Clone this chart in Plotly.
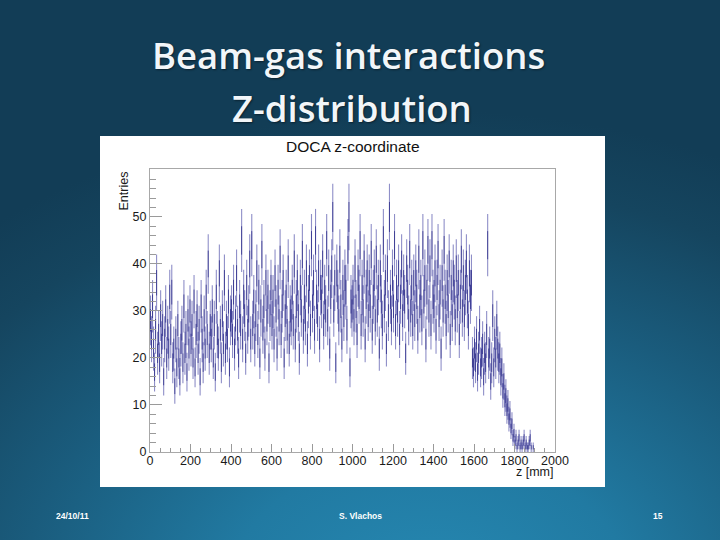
import base64
import numpy as np
import plotly.graph_objects as go

# ---- data: entries per 5 mm bin ----
bin_width_mm = 5
z_start_mm = 0
counts_0000_0100 = [28, 24, 31, 22, 17, 26, 36, 21, 25, 19, 29, 23, 27, 16, 24, 30, 20, 26, 22, 33]
counts_0100_0200 = [25, 34, 19, 22, 14, 24, 18, 27, 20, 16, 23, 26, 19, 31, 21, 25, 17, 28, 22, 30]
counts_0200_0300 = [23, 27, 20, 32, 18, 25, 29, 21, 26, 16, 31, 24, 19, 28, 22, 33, 25, 40, 21, 27]
counts_0300_0400 = [24, 30, 20, 27, 17, 33, 25, 22, 38, 26, 19, 29, 23, 36, 21, 27, 24, 32, 18, 28]
counts_0400_0500 = [30, 25, 34, 22, 28, 37, 26, 20, 31, 27, 45, 24, 33, 29, 21, 35, 26, 30, 40, 24]
counts_0500_0600 = [44, 27, 32, 23, 29, 38, 25, 34, 20, 30, 42, 26, 31, 22, 36, 28, 33, 19, 29, 35]
counts_0600_0700 = [27, 32, 24, 37, 30, 22, 34, 28, 41, 25, 31, 36, 20, 29, 33, 26, 39, 23, 30, 28]
counts_0700_0800 = [34, 27, 40, 24, 31, 36, 29, 21, 35, 30, 42, 26, 33, 28, 38, 23, 32, 37, 27, 44]
counts_0800_0900 = [31, 36, 26, 45, 33, 29, 38, 24, 35, 32, 40, 27, 34, 30, 44, 28, 37, 22, 33, 39]
counts_0900_1000 = [50, 30, 36, 19, 38, 33, 28, 41, 31, 24, 35, 29, 37, 34, 26, 43, 50, 18, 32, 30]
counts_1000_1100 = [34, 28, 39, 31, 25, 37, 33, 44, 27, 35, 30, 40, 24, 33, 38, 29, 36, 31, 42, 26]
counts_1100_1200 = [33, 37, 28, 41, 30, 35, 22, 38, 32, 27, 45, 31, 36, 23, 39, 29, 50, 33, 28, 37]
counts_1200_1300 = [31, 44, 27, 35, 30, 38, 25, 33, 40, 29, 36, 32, 21, 39, 34, 28, 42, 30, 35, 27]
counts_1300_1400 = [36, 29, 38, 33, 26, 41, 31, 35, 28, 44, 32, 37, 24, 34, 43, 30, 39, 27, 44, 33]
counts_1400_1500 = [31, 38, 26, 35, 42, 29, 34, 22, 37, 30, 43, 33, 27, 36, 31, 40, 25, 35, 29, 38]
counts_1500_1600 = [34, 28, 39, 31, 36, 25, 33, 41, 30, 37, 29, 35, 40, 32, 27, 38, 33, 36, 20, 18]
counts_1600_1700 = [22, 19, 24, 17, 21, 26, 18, 20, 23, 16, 21, 19, 25, 44, 20, 22, 15, 19, 29, 18]
counts_1700_1800 = [24, 20, 27, 22, 19, 21, 16, 18, 13, 15, 11, 12, 9, 10, 7, 8, 5, 6, 3, 4]
counts_1800_1900 = [2, 3, 1, 2, 3, 1, 2, 1, 2, 3, 1, 2, 1, 1, 2, 3, 1, 0, 1, 0]

x_ticks = [0, 200, 400, 600, 800, 1000, 1200, 1400, 1600, 1800, 2000]
y_ticks = [0, 10, 20, 30, 40, 50]

slide_title_1 = "Beam-gas interactions"
slide_title_2 = "Z-distribution"
hist_title = "DOCA z-coordinate"
x_title = "z [mm]"
y_title = "Entries"
footer_date = "24/10/11"
footer_author = "S. Vlachos"
footer_page = "15"

counts = np.array(
    counts_0000_0100 + counts_0100_0200 + counts_0200_0300 + counts_0300_0400
    + counts_0400_0500 + counts_0500_0600 + counts_0600_0700 + counts_0700_0800
    + counts_0800_0900 + counts_0900_1000 + counts_1000_1100 + counts_1100_1200
    + counts_1200_1300 + counts_1300_1400 + counts_1400_1500 + counts_1500_1600
    + counts_1600_1700 + counts_1700_1800 + counts_1800_1900, dtype=float)
centers = z_start_mm + bin_width_mm * (np.arange(len(counts)) + 0.5)
errors = np.sqrt(counts)
mask = counts > 0

# ---- layout geometry (pixels) ----
W, H = 720, 540
L, R, T, B = 150, 555, 169, 452


def px(x):
    return (x - L) / (R - L)


def py(y):
    return (B - y) / (B - T)


fig = go.Figure()
# full sqrt(N) error bars (light), plus a darker core where ROOT's overlapping bars pile up
fig.add_trace(go.Scatter(
    x=centers[mask], y=counts[mask], mode="markers",
    marker=dict(size=2, color="rgba(0,0,128,0.0)"),
    error_y=dict(type="data", array=errors[mask], visible=True,
                 color="rgba(20,20,140,0.48)", thickness=1.1, width=0),
    hoverinfo="skip", showlegend=False,
))
fig.add_trace(go.Scatter(
    x=centers[mask], y=counts[mask], mode="markers",
    marker=dict(size=2, color="rgba(0,0,128,0.0)"),
    error_y=dict(type="data", array=0.45 * errors[mask], visible=True,
                 color="rgba(0,0,110,0.55)", thickness=1.0, width=0),
    hoverinfo="skip", showlegend=False,
))

svg = (
    "<svg xmlns='http://www.w3.org/2000/svg' width='720' height='540'>"
    "<defs><radialGradient id='g' gradientUnits='userSpaceOnUse' cx='430' cy='600' r='680' "
    "gradientTransform='translate(430 600) scale(1 0.72) translate(-430 -600)'>"
    "<stop offset='0' stop-color='#2689b3'/>"
    "<stop offset='0.3' stop-color='#217aa2'/>"
    "<stop offset='0.6' stop-color='#1a5c7d'/>"
    "<stop offset='0.85' stop-color='#15455f'/>"
    "<stop offset='1' stop-color='#123d56'/>"
    "</radialGradient></defs>"
    "<rect width='720' height='540' fill='url(#g)'/></svg>"
)
svg_uri = "data:image/svg+xml;base64," + base64.b64encode(svg.encode()).decode()

axis_font = dict(family="Liberation Sans, Arial, sans-serif", size=12.5, color="#1a1a1a")

fig.update_layout(
    width=W, height=H,
    margin=dict(l=L, r=W - R, t=T, b=H - B, pad=0),
    paper_bgcolor="#133f58",
    plot_bgcolor="rgba(0,0,0,0)",
    images=[dict(source=svg_uri, xref="paper", yref="paper",
                 x=px(0), y=py(0), sizex=px(W) - px(0), sizey=py(0) - py(H),
                 xanchor="left", yanchor="top", sizing="stretch", layer="below")],
    shapes=[dict(type="rect", xref="paper", yref="paper",
                 x0=px(100), x1=px(605), y0=py(487), y1=py(136),
                 fillcolor="white", line=dict(width=0), layer="below")],
    xaxis=dict(range=[0, 2000], tickvals=x_ticks, ticks="inside", ticklen=8,
               tickcolor="#9a9a9a", tickwidth=1, showgrid=False, zeroline=False,
               showline=True, linecolor="#a8a8a8", linewidth=1, mirror=True,
               tickfont=axis_font, ticklabelstandoff=-3,
               minor=dict(ticks="inside", dtick=50, ticklen=4, tickcolor="#9a9a9a", showgrid=False)),
    yaxis=dict(range=[0, 60.2], tickvals=y_ticks, ticks="inside", ticklen=12,
               tickcolor="#9a9a9a", tickwidth=1, showgrid=False, zeroline=False,
               showline=True, linecolor="#a8a8a8", linewidth=1, mirror=True,
               tickfont=axis_font,
               minor=dict(ticks="inside", dtick=2, ticklen=6, tickcolor="#9a9a9a", showgrid=False)),
)

ann = []
title_font = dict(family="Open Sans, Noto Sans, sans-serif", size=36.5, color="#f2f6f9",
                  weight=600, shadow="1px 1px 2px rgba(0,0,0,0.45)")
ann.append(dict(text=slide_title_1, x=px(348), y=py(55), font=title_font))
ann.append(dict(text=slide_title_2, x=px(352), y=py(108), font=title_font))
ann.append(dict(text=hist_title, x=px(353), y=py(146),
                font=dict(family="Liberation Sans, Arial, sans-serif", size=15.5, color="#111111")))
ann.append(dict(text=y_title, x=px(123), y=py(170), yanchor="top", textangle=-90,
                font=axis_font))
ann.append(dict(text=x_title, x=px(556), y=py(472), xanchor="right", font=axis_font))
foot_font = dict(family="Liberation Sans Narrow, Liberation Sans, sans-serif", size=8.5,
                 color="#ffffff", weight="bold")
ann.append(dict(text=footer_date, x=px(72), y=py(516), font=foot_font))
ann.append(dict(text=footer_author, x=px(360), y=py(516), font=foot_font))
ann.append(dict(text=footer_page, x=px(658), y=py(516), font=foot_font))
for a in ann:
    a.update(xref="paper", yref="paper", showarrow=False)
    a.setdefault("xanchor", "center")
    a.setdefault("yanchor", "middle")
fig.update_layout(annotations=ann)

fig.write_html("out.html", config={"displayModeBar": False},
               post_script="document.body.style.margin='0';")
